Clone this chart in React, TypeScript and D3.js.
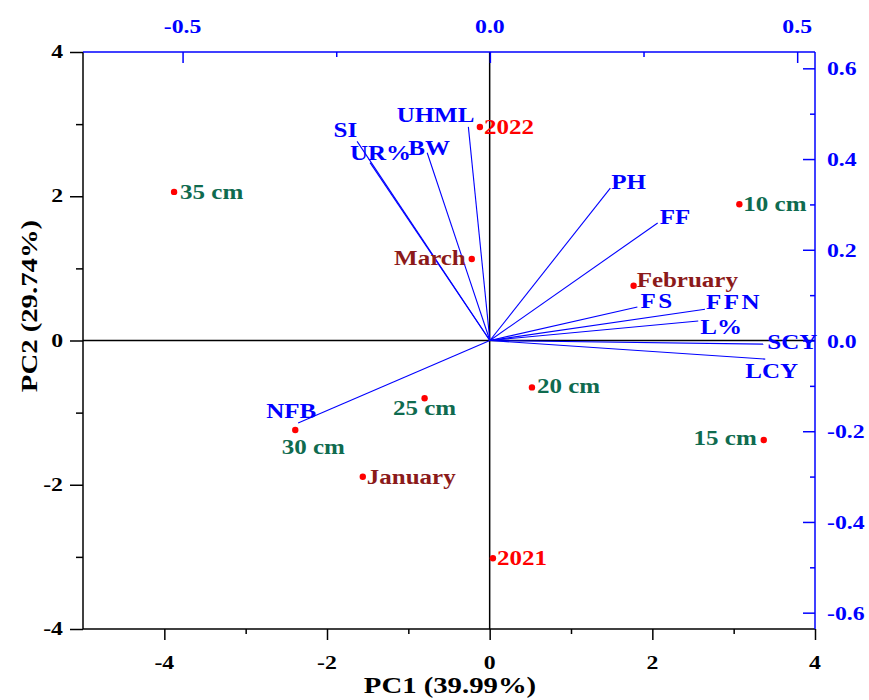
import React, { useEffect, useRef } from 'react';
import * as d3 from 'd3';

// PCA scores (observations)
const scoreNames = ['35 cm', '2022', '10 cm', 'March', 'February', '20 cm', '15 cm', '25 cm', '30 cm', 'January', '2021'];
const scorePC1 = [-3.88, -0.12, 3.07, -0.22, 1.77, 0.52, 3.37, -0.8, -2.39, -1.56, 0.04];
const scorePC2 = [2.06, 2.96, 1.89, 1.13, 0.76, -0.65, -1.38, -0.8, -1.24, -1.89, -3.02];
const scoreGroups = ['depth', 'year', 'depth', 'month', 'month', 'depth', 'depth', 'depth', 'depth', 'month', 'year'];

// PCA loadings (variables)
const loadNames = ['UHML', 'BW', 'SI', 'UR%', 'PH', 'FF', 'FS', 'FFN', 'L%', 'SCY', 'LCY', 'NFB'];
const loadPC1 = [-0.035, -0.102, -0.216, -0.195, 0.196, 0.273, 0.24, 0.35, 0.339, 0.445, 0.448, -0.312];
const loadPC2 = [0.471, 0.414, 0.439, 0.392, 0.336, 0.259, 0.074, 0.069, 0.043, -0.008, -0.041, -0.182];

const scoreTicksMajor = [-4, -2, 0, 2, 4];
const scoreTicksMinor = [-3, -1, 1, 3];
const loadXMajor = [-0.5, 0, 0.5];
const loadXMinor = [-0.25, 0.25];
const loadYMajor = [-0.6, -0.4, -0.2, 0, 0.2, 0.4, 0.6];
const loadYMinor = [-0.5, -0.3, -0.1, 0.1, 0.3, 0.5];

const groupColor = { depth: '#0f6b4f', month: '#8b1a1a', year: '#ff0000' };

// label placement relative to each mark: [dx, dy, anchor]
const scoreLabelPos = {
    '35 cm': [6, 7, 'start'], '2022': [4, 7, 'start'], '10 cm': [4, 7, 'start'],
    'March': [-6, 6, 'end'], 'February': [3, 1, 'start'], '20 cm': [5, 6, 'start'],
    '15 cm': [-7, 5, 'end'], '25 cm': [0, 17, 'middle'], '30 cm': [18, 24, 'middle'],
    'January': [4, 7, 'start'], '2021': [4, 7, 'start'],
};
const loadLabelPos = {
    'UHML': [6, -5, 'end'], 'BW': [2, 2, 'middle'], 'SI': [0, -4, 'end'], 'UR%': [-20, -3, 'start'],
    'PH': [1, 1, 'start'], 'FF': [2, 1, 'start'], 'FS': [3, 1, 'start'], 'FFN': [1, 0, 'start'],
    'L%': [2, 13, 'start'], 'SCY': [4, 5, 'start'], 'LCY': [-20, 19, 'start'], 'NFB': [-7, -5, 'middle'],
};

const FONT = '"Liberation Serif", "Times New Roman", serif';
const SX = 1.25;

export default function App() {
    const svgRef = useRef<SVGSVGElement>(null);

    useEffect(() => {
        const svg = d3.select(svgRef.current);
        svg.selectAll('*').remove();
        const left = 83, right = 815, top = 52, bottom = 629;

        const x = d3.scaleLinear().domain([-5, 4]).range([left, right]);
        const y = d3.scaleLinear().domain([-4, 4]).range([bottom, top]);
        const xl = d3.scaleLinear().domain([-0.662, 0.529]).range([left, right]);
        const yl = d3.scaleLinear().domain([-0.636, 0.636]).range([bottom, top]);

        const text = (g, px, py, s, size, color, anchor = 'start', extra = '') => g.append('text')
            .attr('transform', `translate(${px},${py}) ${extra} scale(${SX},1)`)
            .attr('text-anchor', anchor)
            .style('font-family', FONT)
            .style('font-weight', 'bold')
            .style('font-size', `${size}px`)
            .attr('fill', color)
            .text(s);

        const styleAxis = (sel, color) => {
            sel.select('.domain').remove();
            sel.selectAll('line').attr('stroke', color).attr('stroke-width', 1.5);
        };

        // zero lines
        svg.append('line').attr('x1', x(0)).attr('x2', x(0)).attr('y1', top).attr('y2', bottom)
            .attr('stroke', '#000').attr('stroke-width', 1.5);
        svg.append('line').attr('x1', left).attr('x2', right).attr('y1', y(0)).attr('y2', y(0))
            .attr('stroke', '#000').attr('stroke-width', 1.5);

        // left axis (outward)
        svg.append('g').attr('transform', `translate(${left},0)`)
            .call(d3.axisLeft(y).tickValues(scoreTicksMajor).tickSize(13).tickFormat(() => ''))
            .call(s => styleAxis(s, '#000'));
        svg.append('g').attr('transform', `translate(${left},0)`)
            .call(d3.axisLeft(y).tickValues(scoreTicksMinor).tickSize(7).tickFormat(() => ''))
            .call(s => styleAxis(s, '#000'));
        // bottom axis (outward)
        svg.append('g').attr('transform', `translate(0,${bottom})`)
            .call(d3.axisBottom(x).tickValues(scoreTicksMajor).tickSize(11).tickFormat(() => ''))
            .call(s => styleAxis(s, '#000'));
        svg.append('g').attr('transform', `translate(0,${bottom})`)
            .call(d3.axisBottom(x).tickValues(scoreTicksMinor).tickSize(5).tickFormat(() => ''))
            .call(s => styleAxis(s, '#000'));
        // top axis (inward)
        svg.append('g').attr('transform', `translate(0,${top})`)
            .call(d3.axisBottom(xl).tickValues(loadXMajor).tickSize(11).tickFormat(() => ''))
            .call(s => styleAxis(s, '#0000ff'));
        svg.append('g').attr('transform', `translate(0,${top})`)
            .call(d3.axisBottom(xl).tickValues(loadXMinor).tickSize(5).tickFormat(() => ''))
            .call(s => styleAxis(s, '#0000ff'));
        // right axis (inward)
        svg.append('g').attr('transform', `translate(${right},0)`)
            .call(d3.axisLeft(yl).tickValues(loadYMajor).tickSize(12).tickFormat(() => ''))
            .call(s => styleAxis(s, '#0000ff'));
        svg.append('g').attr('transform', `translate(${right},0)`)
            .call(d3.axisLeft(yl).tickValues(loadYMinor).tickSize(5).tickFormat(() => ''))
            .call(s => styleAxis(s, '#0000ff'));

        // frame lines
        svg.append('line').attr('x1', left).attr('x2', left).attr('y1', top).attr('y2', bottom).attr('stroke', '#000').attr('stroke-width', 1.5);
        svg.append('line').attr('x1', left).attr('x2', right).attr('y1', bottom).attr('y2', bottom).attr('stroke', '#000').attr('stroke-width', 1.5);
        svg.append('line').attr('x1', left).attr('x2', right).attr('y1', top).attr('y2', top).attr('stroke', '#0000ff').attr('stroke-width', 1.5);
        svg.append('line').attr('x1', right).attr('x2', right).attr('y1', top).attr('y2', bottom).attr('stroke', '#0000ff').attr('stroke-width', 1.5);

        // tick labels
        scoreTicksMajor.forEach(v => text(svg, left - 20, y(v) + 6, `${v}`, 19, '#000', 'end'));
        scoreTicksMajor.forEach(v => text(svg, x(v), bottom + 40, `${v}`, 19, '#000', 'middle'));
        loadXMajor.forEach(v => text(svg, xl(v), 33, v.toFixed(1), 19, '#0000ff', 'middle'));
        loadYMajor.forEach(v => text(svg, right + 12, yl(v) + 7, v.toFixed(1), 19, '#0000ff', 'start'));

        // axis titles
        text(svg, 450, 693, 'PC1 (39.99%)', 23, '#000', 'middle');
        text(svg, 37, 306, 'PC2 (29.74%)', 23, '#000', 'middle', 'rotate(-90)');

        // loading vectors
        loadNames.forEach((n, i) => {
            svg.append('line')
                .attr('x1', xl(0)).attr('y1', yl(0))
                .attr('x2', xl(loadPC1[i])).attr('y2', yl(loadPC2[i]))
                .attr('stroke', '#0000ff').attr('stroke-width', 1.1);
            const [dx, dy, anchor] = loadLabelPos[n];
            const t = text(svg, xl(loadPC1[i]) + dx, yl(loadPC2[i]) + dy, n, 20, '#0000ff', anchor);
            if (n === 'FFN' || n === 'FS') t.style('letter-spacing', '2px');
        });

        // score points
        scoreNames.forEach((n, i) => {
            svg.append('circle')
                .attr('cx', x(scorePC1[i])).attr('cy', y(scorePC2[i]))
                .attr('r', 3.2).attr('fill', '#ff0000');
            const [dx, dy, anchor] = scoreLabelPos[n];
            text(svg, x(scorePC1[i]) + dx, y(scorePC2[i]) + dy, n, 20, groupColor[scoreGroups[i]], anchor);
        });
    }, []);

    return (
        <svg ref={svgRef} width={869} height={700}
            style={{ position: 'absolute', left: 0, top: 0, background: '#fff' }} />
    );
}
